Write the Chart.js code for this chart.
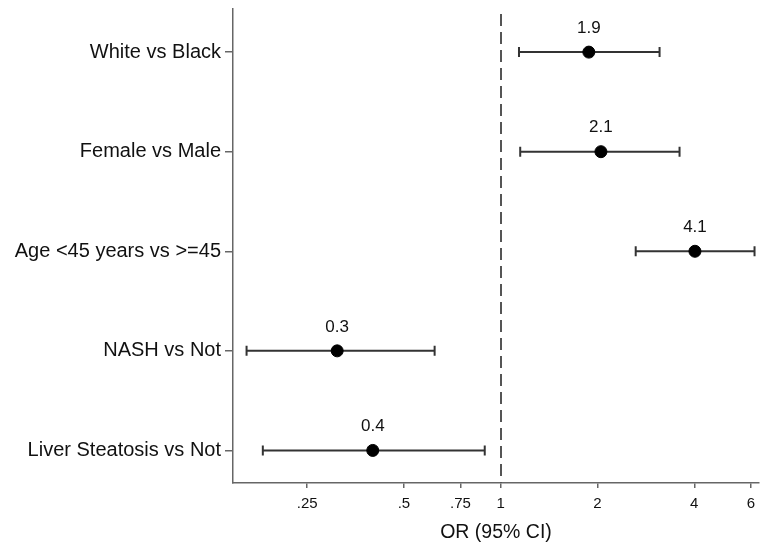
<!DOCTYPE html>
<html>
<head>
<meta charset="utf-8">
<script src="https://cdn.jsdelivr.net/npm/chart.js@4"></script>
<style>
  html,body{margin:0;padding:0;background:#fff;}
  #wrap{width:760px;height:547px;}
</style>
</head>
<body>
<div id="wrap"><canvas id="c" width="760" height="547"></canvas></div>
<script>
// ---- data ----
const categories = ["White vs Black", "Female vs Male", "Age <45 years vs >=45", "NASH vs Not", "Liver Steatosis vs Not"];
const orValues   = [1.88, 2.05, 4.02, 0.31, 0.40];
const ciLow      = [1.14, 1.15, 2.63, 0.162, 0.182];
const ciHigh     = [3.12, 3.60, 6.16, 0.623, 0.892];
const orLabels   = ["1.9", "2.1", "4.1", "0.3", "0.4"];
const xTickValues = [0.25, 0.5, 0.75, 1, 2, 4, 6];
const xTickLabels = [".25", ".5", ".75", "1", "2", "4", "6"];

// rows: first category on top
const rowPos = categories.map((c, i) => categories.length - i);
const points = orValues.map((v, i) => ({x: v, y: rowPos[i]}));

const FONT = "'Liberation Sans', Arial, Helvetica, sans-serif";

const forestPlugin = {
  id: 'forest',
  beforeDatasetsDraw(chart) {
    const {ctx, scales: {x, y}, chartArea} = chart;
    // reference line at OR = 1
    ctx.save();
    ctx.strokeStyle = '#555';
    ctx.lineWidth = 2;
    ctx.setLineDash([12, 6]);
    const x1 = Math.round(x.getPixelForValue(1));
    ctx.beginPath();
    ctx.moveTo(x1, chartArea.top + 5);
    ctx.lineTo(x1, chartArea.bottom);
    ctx.stroke();
    ctx.setLineDash([]);
    // CI bars
    ctx.strokeStyle = '#333';
    ctx.lineWidth = 2;
    for (let i = 0; i < categories.length; i++) {
      const py = y.getPixelForValue(rowPos[i]);
      const xl = x.getPixelForValue(ciLow[i]);
      const xh = x.getPixelForValue(ciHigh[i]);
      ctx.beginPath();
      ctx.moveTo(xl, py); ctx.lineTo(xh, py);
      ctx.moveTo(xl, py - 5); ctx.lineTo(xl, py + 5);
      ctx.moveTo(xh, py - 5); ctx.lineTo(xh, py + 5);
      ctx.stroke();
    }
    ctx.restore();
  },
  afterDatasetsDraw(chart) {
    const {ctx, scales: {x, y}} = chart;
    ctx.save();
    ctx.fillStyle = '#111';
    ctx.font = "17px " + FONT;
    ctx.textAlign = 'center';
    ctx.textBaseline = 'middle';
    for (let i = 0; i < categories.length; i++) {
      const px = x.getPixelForValue(orValues[i]);
      const py = y.getPixelForValue(rowPos[i]);
      ctx.fillText(orLabels[i], px, py - 24);
    }
    ctx.restore();
  }
};

new Chart(document.getElementById('c'), {
  type: 'scatter',
  data: {
    datasets: [{
      data: points,
      backgroundColor: '#000',
      borderColor: '#000',
      pointRadius: 6,
      pointHoverRadius: 6
    }]
  },
  options: {
    responsive: false,
    animation: false,
    devicePixelRatio: 1,
    layout: {autoPadding: false, padding: {top: 9, right: 1, left: 0, bottom: 0}},
    plugins: {legend: {display: false}, tooltip: {enabled: false}},
    scales: {
      x: {
        type: 'logarithmic',
        min: 0.147,
        max: 6.36,
        afterBuildTicks(scale) { scale.ticks = xTickValues.map(v => ({value: v})); },
        afterFit(scale) { scale.height = 64; scale.paddingLeft = 0; scale.paddingRight = 0; },
        ticks: {
          autoSkip: false,
          maxRotation: 0,
          color: '#111',
          font: {size: 15, family: FONT},
          padding: 7,
          callback(value) { const k = xTickValues.indexOf(value); return k >= 0 ? xTickLabels[k] : ''; }
        },
        grid: {drawOnChartArea: false, drawTicks: true, tickLength: 5, color: '#666', lineWidth: 1.5},
        border: {display: true, color: '#666', width: 1.5},
        title: {display: true, text: 'OR (95% CI)', color: '#111', font: {size: 19.5, family: FONT}, padding: {top: 0, bottom: 3}}
      },
      y: {
        type: 'linear',
        min: 0.673,
        max: 5.433,
        afterBuildTicks(scale) { scale.ticks = rowPos.map(v => ({value: v})); },
        afterFit(scale) { scale.width = 233; scale.paddingTop = 0; scale.paddingBottom = 0; },
        ticks: {
          autoSkip: false,
          color: '#111',
          font: {size: 20, family: FONT},
          padding: 4,
          callback(value) { const k = rowPos.indexOf(value); return k >= 0 ? categories[k] : ''; }
        },
        grid: {drawOnChartArea: false, drawTicks: true, tickLength: 8, color: '#666', lineWidth: 1.5},
        border: {display: true, color: '#666', width: 1.5}
      }
    }
  },
  plugins: [forestPlugin]
});
</script>
</body>
</html>
